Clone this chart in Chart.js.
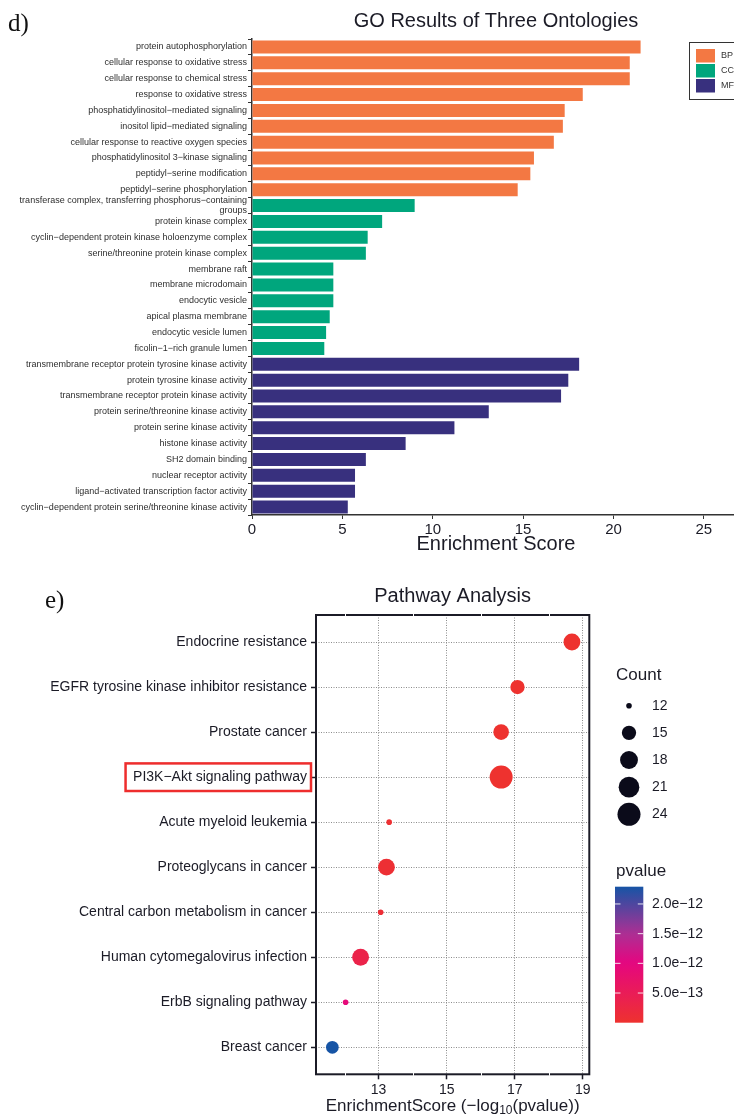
<!DOCTYPE html>
<html>
<head>
<meta charset="utf-8">
<script src="https://cdn.jsdelivr.net/npm/chart.js@4.4.1/dist/chart.umd.min.js"></script>
<style>
  html, body { margin: 0; padding: 0; background: #fff; overflow: hidden; }
  #wrap { position: relative; width: 734px; height: 1117px; overflow: hidden; }
  canvas { position: absolute; left: 0; }
  #goChart { top: 0; }
  #keggChart { top: 560px; }
</style>
</head>
<body>
<div id="wrap">
  <canvas id="goChart" width="780" height="560"></canvas>
  <canvas id="keggChart" width="734" height="557"></canvas>
</div>
<script>
// ---- GO enrichment (panel d) ----
const goTerms = [
  'protein autophosphorylation',
  'cellular response to oxidative stress',
  'cellular response to chemical stress',
  'response to oxidative stress',
  'phosphatidylinositol−mediated signaling',
  'inositol lipid−mediated signaling',
  'cellular response to reactive oxygen species',
  'phosphatidylinositol 3−kinase signaling',
  'peptidyl−serine modification',
  'peptidyl−serine phosphorylation',
  ['transferase complex, transferring phosphorus−containing', 'groups'],
  'protein kinase complex',
  'cyclin−dependent protein kinase holoenzyme complex',
  'serine/threonine protein kinase complex',
  'membrane raft',
  'membrane microdomain',
  'endocytic vesicle',
  'apical plasma membrane',
  'endocytic vesicle lumen',
  'ficolin−1−rich granule lumen',
  'transmembrane receptor protein tyrosine kinase activity',
  'protein tyrosine kinase activity',
  'transmembrane receptor protein kinase activity',
  'protein serine/threonine kinase activity',
  'protein serine kinase activity',
  'histone kinase activity',
  'SH2 domain binding',
  'nuclear receptor activity',
  'ligand−activated transcription factor activity',
  'cyclin−dependent protein serine/threonine kinase activity'
];
const goScores = [
  21.5, 20.9, 20.9, 18.3, 17.3, 17.2, 16.7, 15.6, 15.4, 14.7,
  9.0, 7.2, 6.4, 6.3, 4.5, 4.5, 4.5, 4.3, 4.1, 4.0,
  18.1, 17.5, 17.1, 13.1, 11.2, 8.5, 6.3, 5.7, 5.7, 5.3
];
const goOntology = [
  'BP', 'BP', 'BP', 'BP', 'BP', 'BP', 'BP', 'BP', 'BP', 'BP',
  'CC', 'CC', 'CC', 'CC', 'CC', 'CC', 'CC', 'CC', 'CC', 'CC',
  'MF', 'MF', 'MF', 'MF', 'MF', 'MF', 'MF', 'MF', 'MF', 'MF'
];
const ontologyNames = ['BP', 'CC', 'MF'];
const goTicks = [0, 5, 10, 15, 20, 25];

// ---- KEGG pathways (panel e) ----
const pathways = [
  'Endocrine resistance',
  'EGFR tyrosine kinase inhibitor resistance',
  'Prostate cancer',
  'PI3K−Akt signaling pathway',
  'Acute myeloid leukemia',
  'Proteoglycans in cancer',
  'Central carbon metabolism in cancer',
  'Human cytomegalovirus infection',
  'ErbB signaling pathway',
  'Breast cancer'
];
const pathwayScores = [18.68, 17.08, 16.6, 16.6, 13.31, 13.23, 13.06, 12.47, 12.03, 11.64];
const pathwayCounts = [17, 15, 16, 24, 12, 17, 12, 17, 12, 14];
const pathwayTicks = [13, 15, 17, 19];
const countBreaks = [12, 15, 18, 21, 24];
const pvalueBreaks = [2.0e-12, 1.5e-12, 1.0e-12, 5.0e-13];
const pvalueLabels = ['2.0e−12', '1.5e−12', '1.0e−12', '5.0e−13'];
const highlighted = 'PI3K−Akt signaling pathway';

const sans = '"Liberation Sans", Arial, Helvetica, sans-serif';
const serif = '"Liberation Serif", "Times New Roman", serif';
const ink = '#1b1b26';

const ontologyColours = { BP: '#f37843', CC: '#00a67d', MF: '#38307e' };

// score is -log10(p), so the p-value comes straight back from it
const pvalues = pathwayScores.map(s => Math.pow(10, -s));
const pMin = Math.min(...pvalues);
const pMax = Math.max(...pvalues);
const cMin = Math.min(...pathwayCounts);
const cMax = Math.max(...pathwayCounts);

// area-style size scale like ggplot's scale_size
function countRadius(c) {
  return 2.8 + 8.7 * Math.sqrt((c - cMin) / (cMax - cMin));
}

const gradientStops = [
  [0, [238, 50, 47]],
  [0.44, [229, 6, 128]],
  [0.66, [170, 48, 148]],
  [1, [22, 84, 165]]
];
function gradientAt(t) {
  t = Math.max(0, Math.min(1, t));
  for (let i = 1; i < gradientStops.length; i++) {
    const [t0, c0] = gradientStops[i - 1];
    const [t1, c1] = gradientStops[i];
    if (t <= t1) {
      const f = (t - t0) / (t1 - t0);
      return 'rgb(' + c0.map((c, k) => Math.round(c + (c1[k] - c) * f)).join(',') + ')';
    }
  }
  return 'rgb(22,84,165)';
}
function pvalueColour(p) {
  return gradientAt((p - pMin) / (pMax - pMin));
}

// panel letter and the ontology key box
const goExtras = {
  id: 'goExtras',
  afterDraw(chart) {
    const ctx = chart.ctx;
    ctx.save();
    ctx.fillStyle = '#111';
    ctx.font = '25px ' + serif;
    ctx.textBaseline = 'middle';
    ctx.fillText('d)', 8, 24);

    ctx.fillStyle = '#fff';
    ctx.fillRect(689.5, 42.5, 60, 57);
    ctx.strokeStyle = '#333';
    ctx.lineWidth = 1;
    ctx.strokeRect(689.5, 42.5, 60, 57);
    ctx.font = '9px ' + sans;
    ontologyNames.forEach((name, i) => {
      const y = 49 + i * 15;
      ctx.fillStyle = ontologyColours[name];
      ctx.fillRect(696, y, 19, 13.5);
      ctx.fillStyle = '#333';
      ctx.fillText(name, 721, y + 7);
    });
    ctx.restore();
  }
};

new Chart(document.getElementById('goChart'), {
  type: 'bar',
  data: {
    labels: goTerms,
    datasets: [{
      data: goScores,
      backgroundColor: goOntology.map(o => ontologyColours[o]),
      borderWidth: 0,
      barPercentage: 0.82,
      categoryPercentage: 1
    }]
  },
  options: {
    indexAxis: 'y',
    responsive: false,
    animation: false,
    events: [],
    layout: { padding: { right: 40 } },
    plugins: {
      legend: { display: false },
      tooltip: { enabled: false },
      title: {
        display: true,
        text: 'GO Results of Three Ontologies',
        fullSize: false,
        color: ink,
        font: { family: sans, size: 20, weight: 'normal' },
        padding: { top: 9.5, bottom: 5.5 }
      }
    },
    scales: {
      x: {
        min: 0,
        max: 27,
        afterBuildTicks: s => { s.ticks = goTicks.map(v => ({ value: v })); },
        afterFit: s => { s.height = 45; },
        grid: { drawOnChartArea: false, tickLength: 4, tickColor: '#333', tickWidth: 1 },
        border: { color: '#333', width: 1.5 },
        ticks: { color: ink, font: { family: sans, size: 15 }, padding: 2, maxRotation: 0 },
        title: {
          display: true,
          text: 'Enrichment Score',
          color: ink,
          font: { family: sans, size: 20 },
          padding: { top: 0, bottom: 4 }
        }
      },
      y: {
        afterFit: s => { s.width = 252; },
        grid: { drawOnChartArea: false, tickLength: 4, tickColor: '#333', tickWidth: 1 },
        border: { color: '#333', width: 1.5 },
        ticks: { color: '#2e2e2e', font: { family: sans, size: 9 }, padding: 1, autoSkip: false }
      }
    }
  },
  plugins: [goExtras]
});

// panel box, highlight, axis title with subscript and both legends
const keggExtras = {
  id: 'keggExtras',
  afterDraw(chart) {
    const ctx = chart.ctx;
    const area = chart.chartArea;
    const xs = chart.scales.x;
    const ys = chart.scales.y;
    ctx.save();

    // panel border
    ctx.strokeStyle = ink;
    ctx.lineWidth = 2;
    ctx.strokeRect(area.left, area.top, area.right - area.left, area.bottom - area.top);
    // white minor grid lines cutting the border
    ctx.strokeStyle = '#fff';
    ctx.lineWidth = 1;
    [12, 14, 16, 18].forEach(v => {
      const x = Math.round(xs.getPixelForValue(v)) + 0.5;
      ctx.beginPath();
      ctx.moveTo(x, area.top - 1.5); ctx.lineTo(x, area.top + 1.5);
      ctx.moveTo(x, area.bottom - 1.5); ctx.lineTo(x, area.bottom + 1.5);
      ctx.stroke();
    });

    // red box round the highlighted pathway
    const hi = pathways.indexOf(highlighted);
    const hy = ys.getPixelForValue(pathways.length - hi);
    ctx.font = '14px ' + sans;
    const tw = ctx.measureText(highlighted).width;
    const textRight = area.left - 5 - 4;
    ctx.strokeStyle = '#ee2d2d';
    ctx.lineWidth = 2.5;
    ctx.strokeRect(textRight - tw - 7.5, hy - 13.7, tw + 7.5 + (area.left - 5 - textRight), 27.6);

    // x title: EnrichmentScore (−log10(pvalue))
    const parts = [
      { t: 'EnrichmentScore (−log', f: '17px ' + sans, dy: 0 },
      { t: '10', f: '12px ' + sans, dy: 5 },
      { t: '(pvalue))', f: '17px ' + sans, dy: 0 }
    ];
    let total = 0;
    parts.forEach(p => { ctx.font = p.f; p.w = ctx.measureText(p.t).width; total += p.w; });
    let x = (area.left + area.right) / 2 - total / 2;
    ctx.fillStyle = ink;
    ctx.textBaseline = 'middle';
    ctx.textAlign = 'left';
    parts.forEach(p => { ctx.font = p.f; ctx.fillText(p.t, x, 546 + p.dy); x += p.w; });

    // panel letter
    ctx.fillStyle = '#111';
    ctx.font = '25px ' + serif;
    ctx.fillText('e)', 45, 41);

    // size legend
    ctx.fillStyle = ink;
    ctx.font = '17px ' + sans;
    ctx.fillText('Count', 616, 115.5);
    ctx.font = '14px ' + sans;
    countBreaks.forEach((c, i) => {
      const y = 145.7 + i * 27.15;
      ctx.fillStyle = '#0b0b1a';
      ctx.beginPath();
      ctx.arc(629, y, countRadius(c), 0, Math.PI * 2);
      ctx.fill();
      ctx.fillStyle = ink;
      ctx.fillText(String(c), 652, y);
    });

    // colour bar legend
    ctx.font = '17px ' + sans;
    ctx.fillText('pvalue', 616, 311);
    const barL = 615, barR = 643.3, barT = 326.7, barB = 462.7;
    const grad = ctx.createLinearGradient(0, barB, 0, barT);
    for (let i = 0; i <= 20; i++) grad.addColorStop(i / 20, gradientAt(i / 20));
    ctx.fillStyle = grad;
    ctx.fillRect(barL, barT, barR - barL, barB - barT);
    ctx.strokeStyle = 'rgba(255,255,255,0.85)';
    ctx.lineWidth = 1;
    ctx.font = '14px ' + sans;
    pvalueBreaks.forEach((p, i) => {
      const y = barB - (p - pMin) / (pMax - pMin) * (barB - barT);
      ctx.beginPath();
      ctx.moveTo(barL, y); ctx.lineTo(barL + 5.5, y);
      ctx.moveTo(barR - 5.5, y); ctx.lineTo(barR, y);
      ctx.stroke();
      ctx.fillStyle = ink;
      ctx.fillText(pvalueLabels[i], 652, y);
    });
    ctx.restore();
  }
};

new Chart(document.getElementById('keggChart'), {
  type: 'bubble',
  data: {
    datasets: [{
      data: pathwayScores.map((s, i) => ({ x: s, y: pathways.length - i })),
      radius: ctx => countRadius(pathwayCounts[ctx.dataIndex]),
      backgroundColor: ctx => pvalueColour(pvalues[ctx.dataIndex]),
      borderWidth: 0
    }]
  },
  options: {
    responsive: false,
    animation: false,
    events: [],
    layout: { padding: { right: 144.7 } },
    plugins: {
      legend: { display: false },
      tooltip: { enabled: false },
      title: {
        display: true,
        text: 'Pathway Analysis',
        fullSize: false,
        color: ink,
        font: { family: sans, size: 20, weight: 'normal' },
        padding: { top: 24.5, bottom: 6.5 }
      }
    },
    scales: {
      x: {
        type: 'linear',
        min: 11.16,
        max: 19.19,
        afterBuildTicks: s => { s.ticks = pathwayTicks.map(v => ({ value: v })); },
        afterFit: s => { s.height = 42.7; },
        grid: { color: '#8c8c8c', lineWidth: 1, tickColor: ink, tickLength: 5, tickWidth: 1.5 },
        border: { display: false, dash: [1, 1.5] },
        ticks: { color: ink, font: { family: sans, size: 14 }, padding: 2, maxRotation: 0 }
      },
      y: {
        type: 'linear',
        min: 0.4,
        max: 10.6,
        afterBuildTicks: s => { s.ticks = pathways.map((_, i) => ({ value: pathways.length - i })); },
        afterFit: s => { s.width = 316; },
        grid: { color: '#8c8c8c', lineWidth: 1, tickColor: ink, tickLength: 5, tickWidth: 1.5 },
        border: { display: false, dash: [1, 1.5] },
        ticks: {
          color: ink,
          font: { family: sans, size: 14 },
          padding: 4,
          autoSkip: false,
          callback: v => pathways[pathways.length - v]
        }
      }
    }
  },
  plugins: [keggExtras]
});
</script>
</body>
</html>
